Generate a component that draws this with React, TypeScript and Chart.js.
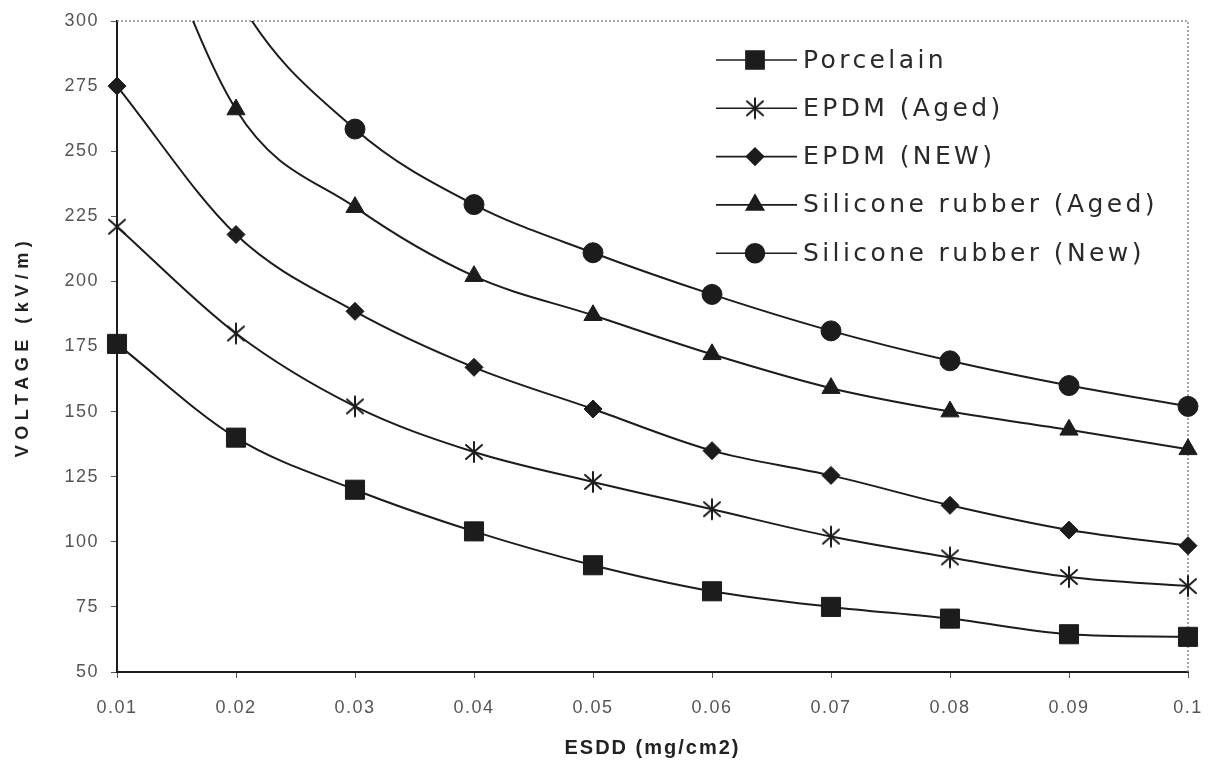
import React, { useEffect, useRef } from "react";
import { Chart, registerables } from "chart.js";
import { drawPoint } from "chart.js/helpers";

Chart.register(...registerables);

const categories = ["0.01", "0.02", "0.03", "0.04", "0.05", "0.06", "0.07", "0.08", "0.09", "0.1"];
const porcelain = [176, 140, 120, 104, 91, 81, 75, 70.5, 64.5, 63.5];
const epdmAged = [221, 180, 152, 134.5, 123, 112.5, 102, 94, 86.5, 83];
const epdmNew = [275, 218, 188.5, 167, 151, 135, 125.5, 114, 104.5, 98.5];
const siliconeAged = [375, 266, 228.5, 202, 187, 172, 159, 150, 143, 135.5];
const siliconeNew = [420, 310, 258.5, 229.5, 211, 195, 181, 169.5, 160, 152];
const seriesNames = ["Porcelain", "EPDM (Aged)", "EPDM (NEW)", "Silicone rubber (Aged)", "Silicone rubber (New)"];
const yTicks = [50, 75, 100, 125, 150, 175, 200, 225, 250, 275, 300];

const INK = "#1c1c1c";

function makeAsterisk(): HTMLCanvasElement {
  const c = document.createElement("canvas");
  c.width = 24;
  c.height = 24;
  const g = c.getContext("2d")!;
  g.strokeStyle = INK;
  g.lineWidth = 2;
  g.lineCap = "round";
  g.beginPath();
  g.moveTo(12, 2);
  g.lineTo(12, 22);
  g.moveTo(4, 5);
  g.lineTo(20, 19);
  g.moveTo(20, 5);
  g.lineTo(4, 19);
  g.stroke();
  return c;
}

export default function App() {
  const ref = useRef<HTMLCanvasElement>(null);
  useEffect(() => {
    const prevMargin = document.body.style.margin;
    document.body.style.margin = "0";
    const asterisk = makeAsterisk();
    const styles: any[] = [
      { pointStyle: "rect", radius: 13.5 },
      { pointStyle: asterisk, radius: 10 },
      { pointStyle: "rectRot", radius: 9 },
      { pointStyle: "triangle", radius: 10.5 },
      { pointStyle: "circle", radius: 10 },
    ];
    const values = [porcelain, epdmAged, epdmNew, siliconeAged, siliconeNew];
    const datasets = values.map((v, i) => ({
      label: seriesNames[i],
      data: v,
      borderColor: INK,
      backgroundColor: INK,
      borderWidth: 2,
      pointStyle: styles[i].pointStyle,
      pointRadius: styles[i].radius,
      pointBorderWidth: 1,
      pointBackgroundColor: INK,
      pointBorderColor: INK,
      cubicInterpolationMode: "monotone" as const,
      clip: { left: 15, right: 15, top: 0, bottom: 15 },
    }));

    const framePlugin = {
      id: "frame",
      beforeDraw(chart: any) {
        chart.ctx.letterSpacing = "1.5px";
      },
      beforeDatasetsDraw(chart: any) {
        const { ctx, chartArea } = chart;
        ctx.save();
        ctx.strokeStyle = "#8a8a8a";
        ctx.lineWidth = 1.5;
        ctx.setLineDash([2, 2]);
        ctx.beginPath();
        ctx.moveTo(chartArea.left, chartArea.top);
        ctx.lineTo(chartArea.right, chartArea.top);
        ctx.lineTo(chartArea.right, chartArea.bottom);
        ctx.stroke();
        ctx.restore();
      },
      afterDraw(chart: any) {
        const { ctx, chartArea } = chart;
        ctx.save();
        const rowY0 = 60;
        const rowH = 48.3;
        chart.data.datasets.forEach((ds: any, i: number) => {
          const y = rowY0 + i * rowH;
          ctx.strokeStyle = INK;
          ctx.lineWidth = 1.6;
          ctx.setLineDash([]);
          ctx.beginPath();
          ctx.moveTo(716, y);
          ctx.lineTo(797, y);
          ctx.stroke();
          ctx.fillStyle = INK;
          ctx.strokeStyle = INK;
          drawPoint(ctx, { pointStyle: ds.pointStyle, radius: ds.pointRadius * 0.95, rotation: 0, borderWidth: 1 }, 755, y);
          ctx.fillStyle = "#2a2a2a";
          ctx.font = "25px 'DejaVu Sans'";
          ctx.letterSpacing = "3.4px";
          ctx.textAlign = "left";
          ctx.textBaseline = "middle";
          ctx.fillText(ds.label, 803, y + 1);
        });
        ctx.fillStyle = "#222";
        ctx.font = "bold 18px 'Liberation Sans'";
        ctx.letterSpacing = "5.5px";
        ctx.textAlign = "center";
        ctx.textBaseline = "middle";
        ctx.save();
        ctx.translate(23, (chartArea.top + chartArea.bottom) / 2);
        ctx.rotate(-Math.PI / 2);
        ctx.fillText("VOLTAGE (kV/m)", 0, 0);
        ctx.restore();
        ctx.letterSpacing = "2px";
        ctx.font = "bold 20px 'Liberation Sans'";
        ctx.fillText("ESDD (mg/cm2)", (chartArea.left + chartArea.right) / 2, 748);
        ctx.restore();
        ctx.letterSpacing = "0px";
      },
    };

    const chart = new Chart(ref.current!, {
      type: "line",
      data: { labels: categories, datasets },
      options: {
        animation: false,
        responsive: false,
        layout: { padding: { top: 21, right: 21, left: 0, bottom: 0 } },
        plugins: { legend: { display: false }, tooltip: { enabled: false } },
        scales: {
          x: {
            offset: false,
            afterFit(scale: any) {
              scale.height = 91;
              scale.paddingLeft = 0;
              scale.paddingRight = 0;
            },
            grid: { display: true, drawOnChartArea: false, drawTicks: true, tickLength: 6, color: "#555" },
            border: { display: true, color: INK, width: 2 },
            ticks: {
              color: "#555",
              font: { family: "'Liberation Sans'", size: 18 },
              padding: 19,
              maxRotation: 0,
              autoSkip: false,
            },
          },
          y: {
            min: 50,
            max: 300,
            afterFit(scale: any) {
              scale.width = 117;
              scale.paddingTop = 0;
              scale.paddingBottom = 0;
            },
            afterBuildTicks(scale: any) {
              scale.ticks = yTicks.map((v) => ({ value: v }));
            },
            grid: { display: true, drawOnChartArea: false, drawTicks: true, tickLength: 6, color: "#555" },
            border: { display: true, color: INK, width: 2 },
            ticks: {
              color: "#555",
              font: { family: "'Liberation Sans'", size: 18 },
              padding: 12,
            },
          },
        },
      },
      plugins: [framePlugin],
    });
    return () => {
      chart.destroy();
      document.body.style.margin = prevMargin;
    };
  }, []);
  return (
    <div style={{ position: "absolute", left: 0, top: 0, width: 1209, height: 763, background: "#fff" }}>
      <canvas ref={ref} width={1209} height={763} style={{ width: 1209, height: 763, display: "block" }} />
    </div>
  );
}
